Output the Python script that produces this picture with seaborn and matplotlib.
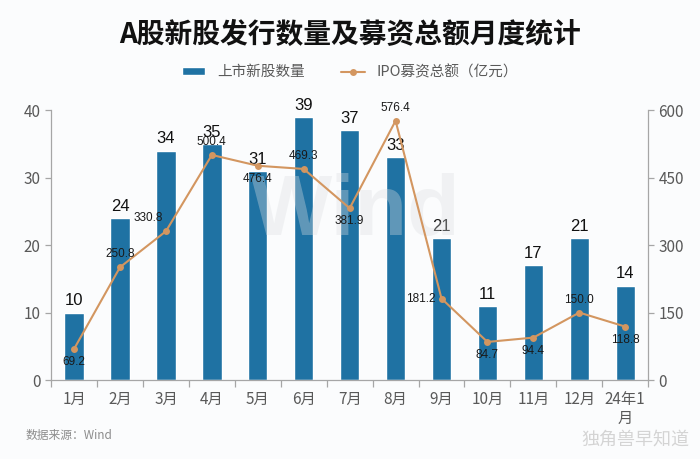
import numpy as np
import pandas as pd
import matplotlib.pyplot as plt
import seaborn as sns

# ---- data ----
months = ['1月', '2月', '3月', '4月', '5月', '6月', '7月', '8月', '9月',
          '10月', '11月', '12月', '24年1\n月']
new_listings = [10, 24, 34, 35, 31, 39, 37, 33, 21, 11, 17, 21, 14]
ipo_amount = [69.2, 250.8, 330.8, 500.4, 476.4, 469.3, 381.9, 576.4,
              181.2, 84.7, 94.4, 150.0, 118.8]
# where each line label sits relative to its point
label_side = ['below', 'above', 'upleft', 'above', 'below', 'above', 'below',
              'above', 'left', 'below', 'below', 'above', 'below']

df = pd.DataFrame({'month': months, 'count': new_listings, 'amount': ipo_amount})

bar_color = '#1f72a3'
line_color = '#d39660'
grey = '#595959'
bg = '#fbfcfd'

sns.set_theme(style='white')
plt.rcParams['font.family'] = ['Noto Sans CJK SC', 'DejaVu Sans']

fig = plt.figure(figsize=(7, 4.59), dpi=100, facecolor=bg)
ax = fig.add_axes([0.073, 0.172, 0.853, 0.588])
ax.set_facecolor(bg)

sns.barplot(data=df, x='month', y='count', color=bar_color, width=0.42,
            saturation=1, ax=ax, label='上市新股数量')
ax.set_ylim(0, 40)
ax.set_yticks([0, 10, 20, 30, 40])
ax.set_xlim(-0.5, len(months) - 0.5)

for i, v in enumerate(new_listings):
    ax.annotate(str(v), (i, v), xytext=(0, 3), textcoords='offset points',
                ha='center', va='bottom', fontsize=12, color='#111111',
                family=['Liberation Sans', 'DejaVu Sans'])

ax2 = ax.twinx()
sns.lineplot(data=df, x='month', y='amount', color=line_color, marker='o',
             markersize=5, markeredgewidth=0, linewidth=1.5, ax=ax2,
             label='IPO募资总额（亿元）', sort=False)
ax2.set_ylim(0, 600)
ax2.set_yticks([0, 150, 300, 450, 600])

offsets = {'above': (0, 5, 'center', 'bottom'),
           'below': (0, -5, 'center', 'top'),
           'upleft': (-2, 5, 'right', 'bottom'),
           'left': (-4, 0, 'right', 'center')}
for i, (v, side) in enumerate(zip(ipo_amount, label_side)):
    dx, dy, ha, va = offsets[side]
    ax2.annotate(f'{v:.1f}', (i, v), xytext=(dx, dy), textcoords='offset points',
                 ha=ha, va=va, fontsize=8.5, color='#1a1a1a',
                 family=['Liberation Sans', 'DejaVu Sans'])

# axes styling
for a in (ax, ax2):
    a.set_xlabel('')
    a.set_ylabel('')
    for s in a.spines.values():
        s.set_visible(False)
ax.spines['left'].set_visible(True)
ax.spines['bottom'].set_visible(True)
ax2.spines['right'].set_visible(True)
for s in (ax.spines['left'], ax.spines['bottom'], ax2.spines['right']):
    s.set_color('#a6a6a6')
    s.set_linewidth(0.9)

ax.tick_params(axis='y', colors='#a6a6a6', labelcolor=grey, labelsize=11,
               length=4, width=0.9, left=True)
ax2.tick_params(axis='y', colors='#a6a6a6', labelcolor=grey, labelsize=11,
                length=4, width=0.9, right=True)
ax.tick_params(axis='x', length=0, labelcolor=grey, labelsize=11, pad=8)
ax.set_xticks(np.arange(len(months) + 1) - 0.5, minor=True)
ax.tick_params(axis='x', which='minor', length=5, width=0.9,
               colors='#a6a6a6', bottom=True)
for t in ax.get_xticklabels():
    t.set_linespacing(1.1)
    t.set_verticalalignment('top')

# legend
h1, l1 = ax.get_legend_handles_labels()
h2, l2 = ax2.get_legend_handles_labels()
if ax.get_legend():
    ax.get_legend().remove()
if ax2.get_legend():
    ax2.get_legend().remove()
fig.legend(h1 + h2, l1 + l2, loc='center', bbox_to_anchor=(0.5, 0.843),
           ncol=2, frameon=False, fontsize=10.5, labelcolor=grey,
           handlelength=1.6, handleheight=0.5, columnspacing=2.5)

fig.text(0.5, 0.923, 'A股新股发行数量及募资总额月度统计', ha='center', va='center',
         fontsize=20, color='#111111', fontweight='bold')

# watermarks and source
ax.text(0.51, 0.62, 'Wind', transform=ax.transAxes, ha='center', va='center',
        fontsize=62, fontweight='bold', color='#dcdfe2',
        alpha=0.35, zorder=5, family=['Liberation Sans', 'DejaVu Sans'])
fig.text(0.036, 0.052, '数据来源：Wind', ha='left', va='center', fontsize=8.5,
         color='#8c8c8c')
fig.text(0.985, 0.042, '独角兽早知道', ha='right', va='center', fontsize=13,
         color='#d4d4d4')

fig.savefig('out.png', dpi=100, facecolor=bg)
